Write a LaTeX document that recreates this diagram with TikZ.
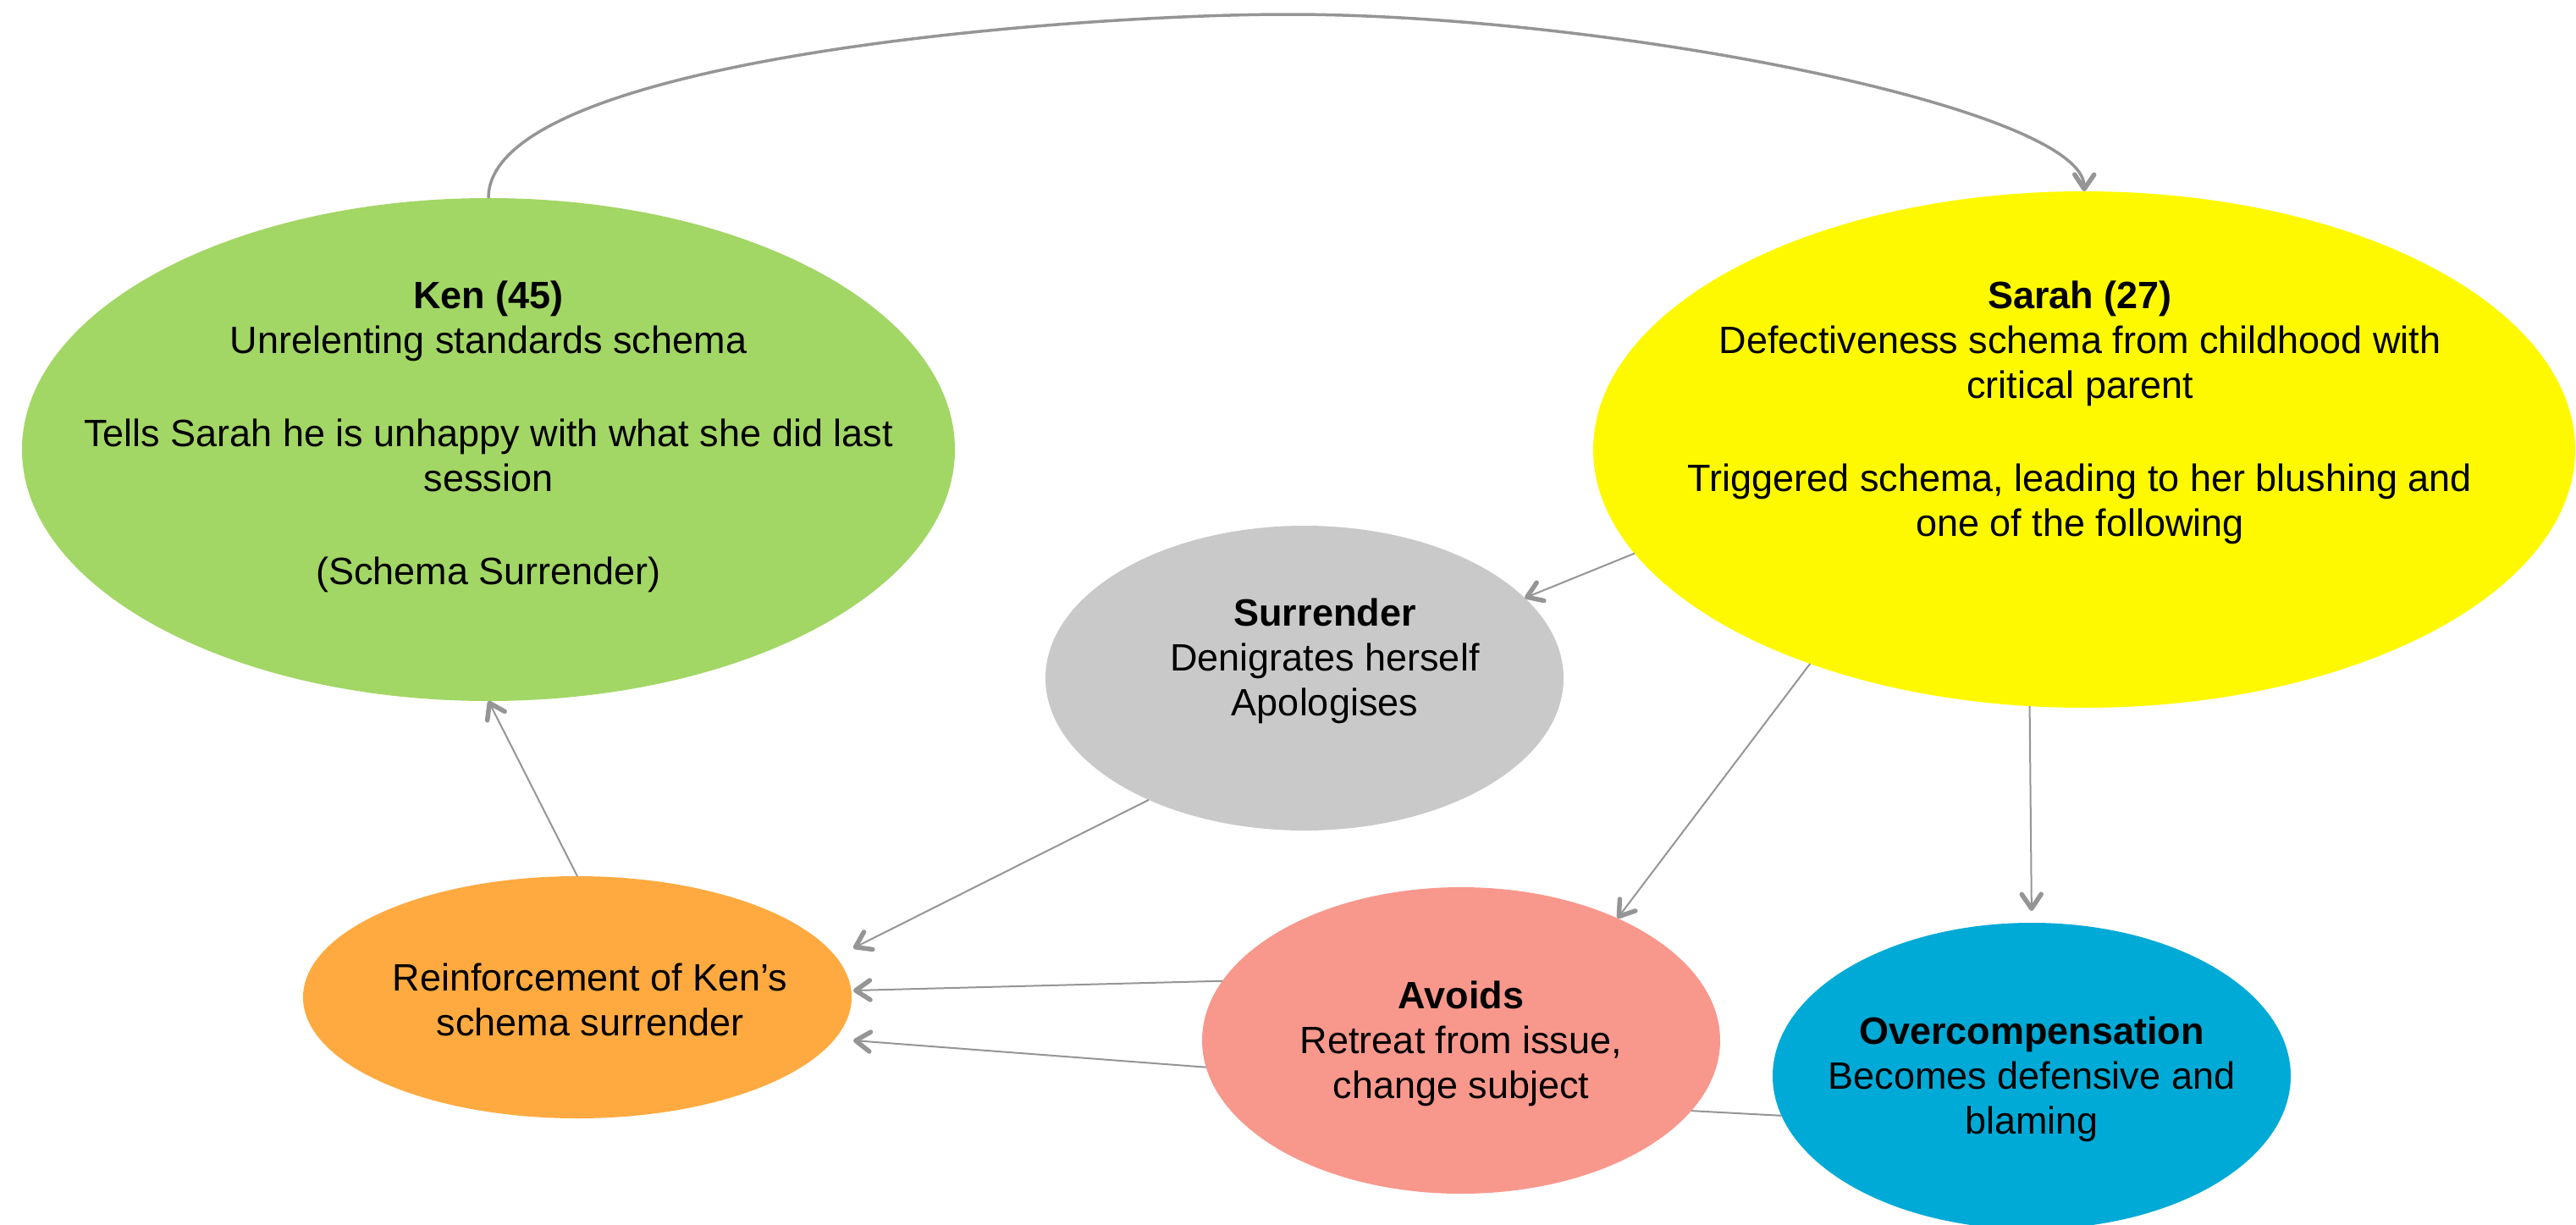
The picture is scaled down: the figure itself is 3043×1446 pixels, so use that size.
\documentclass[tikz,border=0pt]{standalone}
\usepackage{fontspec}
\setmainfont{Liberation Sans}
\usetikzlibrary{shapes.geometric,arrows.meta}

\definecolor{kengreen}{HTML}{A2D665}
\definecolor{sarahyellow}{HTML}{FEF900}
\definecolor{surrgray}{HTML}{C9C9C9}
\definecolor{reinforange}{HTML}{FFAA40}
\definecolor{avoidsalmon}{HTML}{F8988C}
\definecolor{overblue}{HTML}{00AAD6}
\definecolor{linegray}{HTML}{959595}

\tikzset{
  bubble/.style={ellipse, inner sep=0pt, outer sep=0pt},
  bubbletext/.style={inner sep=0pt, outer sep=0pt, align=center, anchor=north,
    font=\fontsize{45}{53}\selectfont, text=black},
  link/.style={draw=linegray, line width=2pt},
  conn/.style={link, -{Straight Barb[length=17pt,width=23pt,line width=5.5pt 0,round]}},
}

\begin{document}
\begin{tikzpicture}[x=1pt, y=-1pt]
  \useasboundingbox (0,0) rectangle (3043,1446);

  % ellipses
  \node[bubble, fill=kengreen,    minimum width=1102pt, minimum height=594pt] (ken)       at (577,531)  {};
  \node[bubble, fill=sarahyellow, minimum width=1160pt, minimum height=610pt] (sarah)     at (2462,531) {};
  \node[bubble, fill=surrgray,    minimum width=612pt,  minimum height=360pt] (surrender) at (1541,801) {};
  \node[bubble, fill=reinforange, minimum width=648pt,  minimum height=286pt] (reinforce) at (682,1178) {};
  \node[bubble, fill=avoidsalmon, minimum width=612pt,  minimum height=362pt] (avoids)    at (1726,1229) {};
  \node[bubble, fill=overblue,    minimum width=612pt,  minimum height=362pt] (overcomp)  at (2400,1271) {};

  % texts
  \node[bubbletext] (kenT) at (577,327)
    {\strut\textbf{Ken (45)}\\Unrelenting standards schema\\[57pt]Tells Sarah he is unhappy with what she did last\\session\\[57pt](Schema Surrender)};
  \node[bubbletext] (sarahT) at (2457,327)
    {\strut\textbf{Sarah (27)}\\Defectiveness schema from childhood with\\critical parent\\[57pt]Triggered schema, leading to her blushing and\\one of the following};
  \node[bubbletext] (surrenderT) at (1565,702)
    {\strut\textbf{Surrender}\\Denigrates herself\\Apologises};
  \node[bubbletext] (reinforceT) at (697,1133)
    {\strut Reinforcement of Ken’s\\schema surrender};
  \node[bubbletext] (avoidsT) at (1726,1154)
    {\strut\textbf{Avoids}\\Retreat from issue,\\change subject};
  \node[bubbletext] (overcompT) at (2400,1196)
    {\strut\textbf{Overcompensation}\\Becomes defensive and\\blaming};

  % connectors
  \coordinate (apex) at (1522,17);
  \draw[conn, line width=3.5pt] (ken.north) .. controls (576,70) and (1260,17) .. (apex)
        .. controls (1900,17) and (2463,128) .. (sarah.north);
  \draw[conn] (sarah.193) -- (surrender.20);
  \draw[conn] (sarah.218.7) -- (avoids.38.5);
  \draw[conn, shorten >=14pt] (sarah.258.4) -- (overcomp.north);
  \draw[conn] (surrender.218) -- ([shift={(2pt,58pt)}]reinforce.east);
  \draw[conn] (avoids.166.9) -- ([shift={(2pt,8pt)}]reinforce.east);
  \draw[conn] (avoids.186.5) -- ([shift={(2pt,-51pt)}]reinforce.east);
  \draw[conn] (reinforce.north) -- (ken.south);
  \draw[link] (avoids.343.5) -- (overcomp.189.3);
\end{tikzpicture}
\end{document}
